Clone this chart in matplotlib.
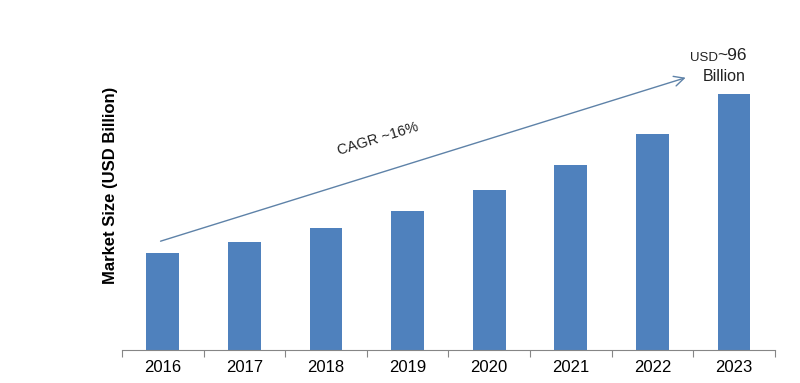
import matplotlib
matplotlib.use("Agg")
import matplotlib.pyplot as plt
import numpy as np

years = ["2016", "2017", "2018", "2019", "2020", "2021", "2022", "2023"]
market_size = [36.4, 40.5, 45.8, 52.1, 60.0, 69.4, 81.0, 96.0]

plt.rcParams['font.family'] = ['Liberation Sans', 'DejaVu Sans']

fig = plt.figure(figsize=(8, 3.83), dpi=100)
ax = fig.add_axes([0.1525, 0.086, 0.816, 0.862])

x = np.arange(len(years))
ax.bar(x, market_size, width=0.4, color="#4F81BD")

ax.set_xlim(-0.5, len(years) - 0.5)
ax.set_ylim(0, 123.75)

# ticks between categories
ax.set_xticks(np.arange(-0.5, len(years)), minor=False)
ax.set_xticklabels([])
ax.set_xticks(x, minor=True)
ax.set_xticklabels(years, minor=True, fontsize=12)
ax.tick_params(axis="x", which="major", length=5, color="#868686", direction="out")
ax.tick_params(axis="x", which="minor", length=0, pad=7)
ax.set_yticks([])

for s in ["top", "right", "left"]:
    ax.spines[s].set_visible(False)
ax.spines["bottom"].set_color("#868686")

ax.set_ylabel("Market Size (USD Billion)", fontsize=12, fontweight="bold", labelpad=3)

# CAGR arrow
ax.annotate("", xy=(6.44, 102.4), xytext=(-0.06, 40.5),
            arrowprops=dict(arrowstyle="->", color="#5E82A8", lw=1.0,
                            mutation_scale=18))
ax.text(2.64, 79, "CAGR ~16%", rotation=17, fontsize=10.5,
        ha="center", va="center", color="#222222")

# value annotation
ax.text(6.80, 109.5, "USD", fontsize=9.5, ha="right", va="center", color="#222222")
ax.text(6.80, 110.5, "~96", fontsize=12.5, ha="left", va="center", color="#222222")
ax.text(6.88, 102.5, "Billion", fontsize=11.5, ha="center", va="center", color="#222222")

fig.savefig("out.png", dpi=100)
